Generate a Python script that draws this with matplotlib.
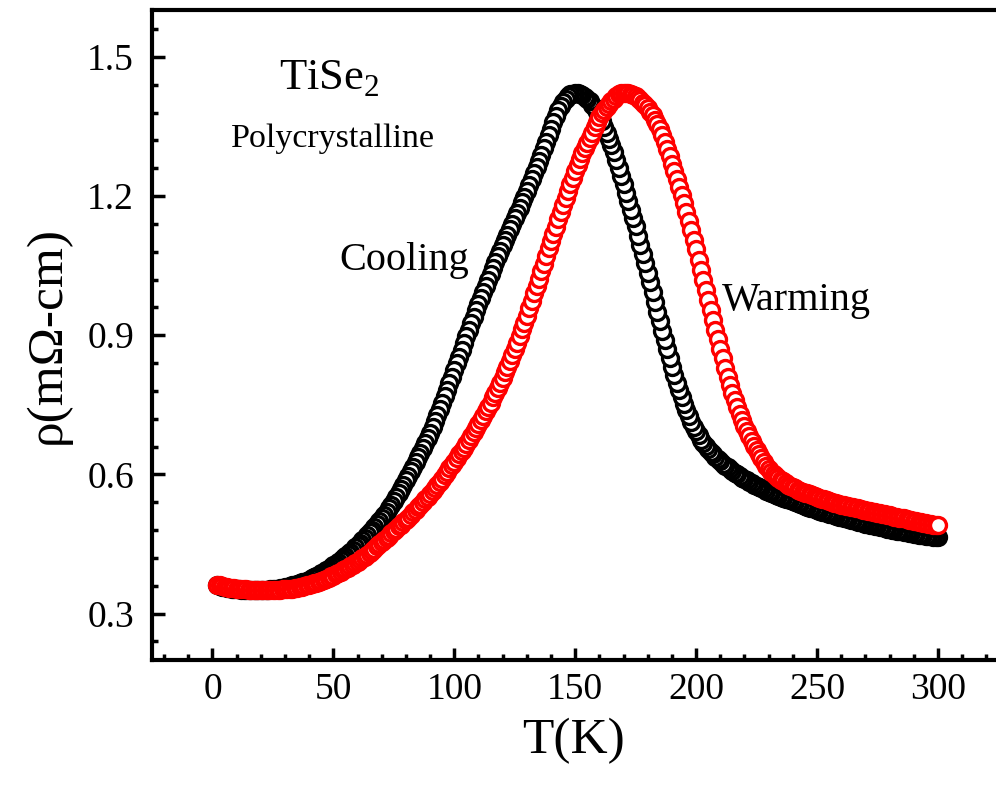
import numpy as np
import matplotlib
matplotlib.use('Agg')
import matplotlib.pyplot as plt
from matplotlib.ticker import MultipleLocator, FormatStrFormatter

plt.rcParams['font.family'] = ['Liberation Serif', 'DejaVu Serif']
plt.rcParams['mathtext.fontset'] = 'custom'
plt.rcParams['mathtext.rm'] = 'Liberation Serif'

# temperature grid (K), one point per kelvin
temp = np.arange(2, 301)

# resistivity on cooling (mOhm-cm), T = 2 ... 300
rho_cool = [
    0.362, 0.360, 0.358, 0.357, 0.356, 0.355, 0.354, 0.353,
    0.352, 0.352, 0.351, 0.351, 0.350, 0.350, 0.350, 0.350, 0.350, 0.350,
    0.350, 0.350, 0.351, 0.351, 0.352, 0.352, 0.353, 0.354, 0.355, 0.356,
    0.357, 0.358, 0.359, 0.361, 0.362, 0.364, 0.366, 0.368, 0.369, 0.371,
    0.373, 0.376, 0.378, 0.381, 0.384, 0.387, 0.390, 0.393, 0.397, 0.400,
    0.404, 0.408, 0.412, 0.416, 0.420, 0.424, 0.429, 0.433, 0.438, 0.443,
    0.448, 0.453, 0.459, 0.464, 0.470, 0.475, 0.481, 0.487, 0.493, 0.499,
    0.505, 0.512, 0.519, 0.527, 0.535, 0.543, 0.551, 0.560, 0.569, 0.578,
    0.587, 0.597, 0.607, 0.617, 0.627, 0.637, 0.647, 0.658, 0.668, 0.679,
    0.690, 0.702, 0.715, 0.728, 0.741, 0.755, 0.769, 0.783, 0.797, 0.811,
    0.825, 0.840, 0.854, 0.869, 0.883, 0.898, 0.912, 0.926, 0.940, 0.954,
    0.968, 0.981, 0.994, 1.007, 1.020, 1.033, 1.045, 1.057, 1.070, 1.082,
    1.094, 1.106, 1.117, 1.129, 1.140, 1.152, 1.164, 1.175, 1.187, 1.198,
    1.210, 1.223, 1.236, 1.249, 1.262, 1.275, 1.289, 1.303, 1.317, 1.331,
    1.345, 1.359, 1.373, 1.385, 1.395, 1.403, 1.410, 1.415, 1.419, 1.421,
    1.423, 1.422, 1.420, 1.418, 1.414, 1.410, 1.404, 1.397, 1.389, 1.381,
    1.372, 1.361, 1.349, 1.336, 1.323, 1.310, 1.294, 1.277, 1.260, 1.243,
    1.225, 1.207, 1.189, 1.171, 1.153, 1.135, 1.115, 1.095, 1.075, 1.055,
    1.035, 1.014, 0.993, 0.972, 0.951, 0.930, 0.910, 0.890, 0.871, 0.851,
    0.832, 0.815, 0.798, 0.782, 0.767, 0.752, 0.739, 0.726, 0.714, 0.703,
    0.693, 0.684, 0.675, 0.668, 0.661, 0.655, 0.649, 0.643, 0.638, 0.633,
    0.628, 0.623, 0.619, 0.615, 0.611, 0.607, 0.604, 0.600, 0.597, 0.593,
    0.590, 0.587, 0.584, 0.581, 0.578, 0.575, 0.573, 0.570, 0.568, 0.565,
    0.563, 0.561, 0.558, 0.556, 0.554, 0.552, 0.550, 0.548, 0.546, 0.544,
    0.542, 0.540, 0.538, 0.536, 0.534, 0.532, 0.530, 0.528, 0.527, 0.525,
    0.523, 0.521, 0.520, 0.518, 0.517, 0.515, 0.514, 0.512, 0.511, 0.509,
    0.508, 0.507, 0.505, 0.504, 0.502, 0.501, 0.500, 0.498, 0.497, 0.495,
    0.494, 0.493, 0.492, 0.490, 0.489, 0.488, 0.487, 0.486, 0.484, 0.483,
    0.482, 0.481, 0.480, 0.479, 0.478, 0.477, 0.476, 0.475, 0.474, 0.473,
    0.472, 0.471, 0.470, 0.470, 0.469, 0.468, 0.467, 0.467, 0.466, 0.466,
    0.465,
]

# resistivity on warming (mOhm-cm), T = 2 ... 300
rho_warm = [
    0.362, 0.361, 0.359, 0.358, 0.357, 0.356, 0.356, 0.355,
    0.354, 0.353, 0.353, 0.352, 0.352, 0.351, 0.351, 0.351, 0.350, 0.350,
    0.350, 0.350, 0.350, 0.350, 0.350, 0.350, 0.350, 0.351, 0.351, 0.352,
    0.352, 0.353, 0.353, 0.354, 0.355, 0.356, 0.357, 0.358, 0.359, 0.361,
    0.362, 0.364, 0.365, 0.367, 0.369, 0.371, 0.373, 0.375, 0.377, 0.380,
    0.382, 0.385, 0.387, 0.390, 0.393, 0.396, 0.399, 0.402, 0.405, 0.409,
    0.412, 0.416, 0.419, 0.423, 0.427, 0.431, 0.436, 0.440, 0.445, 0.449,
    0.454, 0.459, 0.464, 0.468, 0.473, 0.478, 0.483, 0.488, 0.492, 0.497,
    0.502, 0.507, 0.513, 0.518, 0.524, 0.529, 0.535, 0.541, 0.546, 0.552,
    0.558, 0.565, 0.571, 0.578, 0.584, 0.591, 0.598, 0.605, 0.613, 0.620,
    0.627, 0.635, 0.643, 0.650, 0.658, 0.666, 0.674, 0.683, 0.691, 0.700,
    0.708, 0.717, 0.727, 0.736, 0.746, 0.755, 0.766, 0.776, 0.787, 0.797,
    0.808, 0.820, 0.832, 0.844, 0.857, 0.870, 0.884, 0.898, 0.913, 0.927,
    0.942, 0.958, 0.974, 0.990, 1.006, 1.022, 1.038, 1.054, 1.071, 1.087,
    1.103, 1.119, 1.134, 1.150, 1.165, 1.180, 1.195, 1.210, 1.225, 1.240,
    1.255, 1.268, 1.280, 1.292, 1.304, 1.315, 1.326, 1.337, 1.348, 1.359,
    1.370, 1.378, 1.386, 1.393, 1.399, 1.405, 1.410, 1.415, 1.419, 1.422,
    1.423, 1.423, 1.422, 1.420, 1.418, 1.415, 1.411, 1.406, 1.401, 1.396,
    1.390, 1.382, 1.374, 1.365, 1.356, 1.345, 1.331, 1.317, 1.302, 1.286,
    1.270, 1.253, 1.236, 1.219, 1.202, 1.185, 1.166, 1.146, 1.126, 1.106,
    1.085, 1.063, 1.041, 1.019, 0.997, 0.975, 0.954, 0.933, 0.912, 0.891,
    0.870, 0.850, 0.830, 0.811, 0.793, 0.775, 0.760, 0.745, 0.731, 0.718,
    0.705, 0.693, 0.682, 0.671, 0.661, 0.652, 0.643, 0.635, 0.627, 0.619,
    0.612, 0.606, 0.601, 0.596, 0.592, 0.588, 0.585, 0.581, 0.578, 0.575,
    0.572, 0.570, 0.567, 0.565, 0.563, 0.561, 0.559, 0.557, 0.555, 0.553,
    0.551, 0.549, 0.547, 0.546, 0.544, 0.542, 0.541, 0.539, 0.538, 0.536,
    0.535, 0.534, 0.533, 0.531, 0.530, 0.529, 0.528, 0.527, 0.525, 0.524,
    0.523, 0.522, 0.521, 0.519, 0.518, 0.517, 0.516, 0.515, 0.514, 0.513,
    0.512, 0.511, 0.509, 0.508, 0.507, 0.506, 0.505, 0.504, 0.502, 0.501,
    0.500, 0.499, 0.498, 0.497, 0.496, 0.495, 0.494, 0.493, 0.492, 0.491,
    0.490,
]

fig = plt.figure(figsize=(9.96, 7.89), dpi=100)
ax = fig.add_axes([0.1526, 0.1635, 0.8474, 0.8232])

# cooling runs from 300 K down, warming from 2 K up
ax.plot(temp[::-1], rho_cool[::-1], 'o', ms=11.5, mfc='white', mec='black', mew=2.4)
ax.plot(temp, rho_warm, 'o', ms=11.5, mfc='white', mec='red', mew=2.4)

ax.set_xlim(-25, 324)
ax.set_ylim(0.2, 1.6)

ax.xaxis.set_major_locator(MultipleLocator(50))
ax.xaxis.set_minor_locator(MultipleLocator(10))
ax.yaxis.set_major_locator(MultipleLocator(0.3))
ax.yaxis.set_minor_locator(MultipleLocator(0.06))
ax.yaxis.set_major_formatter(FormatStrFormatter('%.1f'))

ax.spines['right'].set_visible(False)
for s in ['left', 'bottom', 'top']:
    ax.spines[s].set_linewidth(3)

ax.tick_params(which='both', direction='in', top=False, right=False, width=2.5)
ax.tick_params(which='major', length=9, labelsize=27)
ax.tick_params(which='minor', length=4.5)
ax.tick_params(axis='x', which='major', pad=9)
ax.tick_params(axis='y', which='major', pad=13)

ax.set_xlabel('T(K)', fontsize=37, labelpad=8)
ax.set_ylabel('ρ(mΩ-cm)', fontsize=37, labelpad=12)

ax.text(27.5, 1.428, 'TiSe$_2$', fontsize=32)
ax.text(7.5, 1.306, 'Polycrystalline', fontsize=24.5)
ax.text(52.5, 1.04, 'Cooling', fontsize=29)
ax.text(210.5, 0.955, 'Warming', fontsize=29)

fig.savefig('out.png', dpi=100)
